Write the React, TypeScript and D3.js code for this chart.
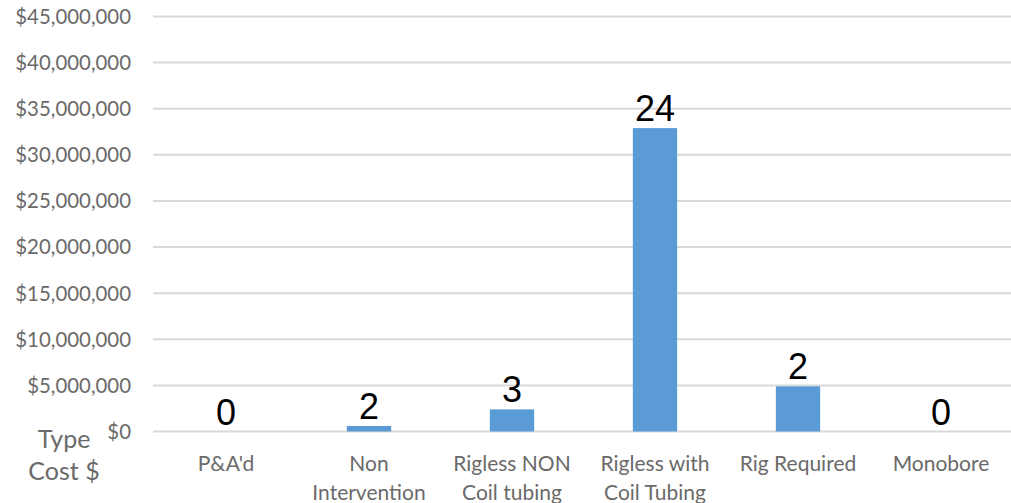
import React from "react";
import * as d3 from "d3";

// Workover categories, total cost per category and number of wells in each
const categories = [
  "P&A'd",
  "Non Intervention",
  "Rigless NON Coil tubing",
  "Rigless with Coil Tubing",
  "Rig Required",
  "Monobore",
];
const costs = [0, 600000, 2400000, 32900000, 4900000, 0];
const wellCounts = [0, 2, 3, 24, 2, 0];
const yTicks = [0, 5e6, 10e6, 15e6, 20e6, 25e6, 30e6, 35e6, 40e6, 45e6];
const axisTitleLines = ["Type", "Cost $"];

const W = 1011;
const H = 503;

const axisFont = "Lato, 'Open Sans', sans-serif";
const labelFont = "'Liberation Sans', Arial, sans-serif";
const grey = "#6a6a6a";

// Greedy word wrap by character count, the way the category axis breaks long names
function wrap(text: string, maxChars: number): string[] {
  const words = text.split(" ");
  const lines: string[] = [];
  let cur = "";
  for (const w of words) {
    const next = cur ? cur + " " + w : w;
    if (next.length > maxChars && cur) {
      lines.push(cur);
      cur = w;
    } else {
      cur = next;
    }
  }
  if (cur) lines.push(cur);
  return lines;
}

export default function App() {
  const x = d3
    .scaleBand<string>()
    .domain(categories)
    .range([154.5, 1012.5])
    .paddingInner(0.69)
    .paddingOuter(0.345);

  const y = d3.scaleLinear().domain([0, 45e6]).range([431.5, 16.5]);
  const fmt = d3.format("$,.0f");

  const gridX0 = 153;
  const gridX1 = W;

  return (
    <svg
      width={W}
      height={H}
      style={{ position: "absolute", left: 0, top: 0, background: "#fff" }}
    >
      {/* horizontal gridlines */}
      <g>
        {yTicks.map((t) => (
          <line
            key={t}
            x1={gridX0}
            x2={gridX1}
            y1={y(t)}
            y2={y(t)}
            stroke="#d9d9d9"
            strokeWidth={2}
          />
        ))}
      </g>

      {/* value axis labels */}
      <g fontFamily={axisFont} fontSize={20.4} fill={grey} textAnchor="end">
        {yTicks.map((t) => (
          <text key={t} x={131} y={y(t)} dy="0.36em">
            {fmt(t)}
          </text>
        ))}
      </g>

      {/* bars */}
      <g>
        {categories.map((c, i) => (
          <rect
            key={c}
            x={x(c)}
            width={x.bandwidth()}
            y={y(costs[i])}
            height={y(0) - y(costs[i])}
            fill="#5b9bd5"
          />
        ))}
      </g>

      {/* well count labels above bars */}
      <g fontFamily={labelFont} fontSize={36} fill="#000" textAnchor="middle">
        {categories.map((c, i) => (
          <text key={c} x={(x(c) as number) + x.bandwidth() / 2} y={y(costs[i]) - 7}>
            {wellCounts[i]}
          </text>
        ))}
      </g>

      {/* category axis labels */}
      <g fontFamily={axisFont} fontSize={21} fill={grey} textAnchor="middle">
        {categories.map((c) => {
          const cx = (x(c) as number) + x.bandwidth() / 2;
          return (
            <text key={c} x={cx} y={471}>
              {wrap(c, 12).map((line, j) => (
                <tspan key={j} x={cx} y={471 + j * 29}>
                  {line}
                </tspan>
              ))}
            </text>
          );
        })}
      </g>

      {/* axis title */}
      <g fontFamily={axisFont} fontSize={25} fill={grey} textAnchor="middle">
        {axisTitleLines.map((line, j) => (
          <text key={line} x={64} y={448 + j * 32}>
            {line}
          </text>
        ))}
      </g>
    </svg>
  );
}
